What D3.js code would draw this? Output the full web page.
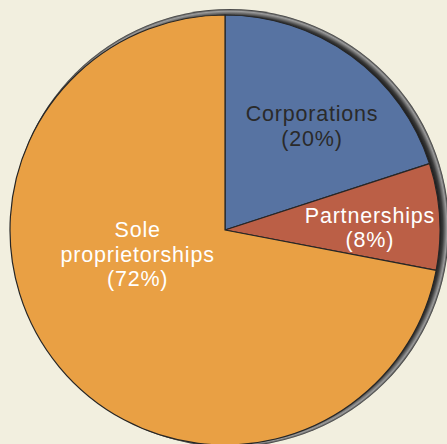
<!DOCTYPE html>
<html>
<head>
<meta charset="utf-8">
<script src="https://cdn.jsdelivr.net/npm/d3@7"></script>
<style>
  html, body { margin: 0; padding: 0; background: #f2efdf; }
  svg { display: block; }
</style>
</head>
<body>
<div id="pie-container"></div>
<script>
// chart data
const categories = ['Corporations', 'Partnerships', 'Sole proprietorships'];
const shares = [20, 8, 72];
const labelLines = [
  ['Corporations', '(20%)'],
  ['Partnerships', '(8%)'],
  ['Sole', 'proprietorships', '(72%)']
];

const width = 447;
const height = 444;
const cx = 225, cy = 230;
const radius = 215;

const colors = ['#5773a2', '#bb5f46', '#e9a044'];
const textColors = ['#2a2a2a', '#ffffff', '#ffffff'];
// label placement: [angle from top in degrees, distance from centre]
const labelPolar = [[42, 130], [92, 145], [250, 93]];

const data = categories.map((c, i) => ({ label: c, value: shares[i], lines: labelLines[i] }));

const svg = d3.select('#pie-container')
  .append('svg')
  .attr('width', width)
  .attr('height', height);

// rim shadow behind the pie
const rimX = cx + 5, rimY = cy - 2, rimR = radius + 4;
const defs = svg.append('defs');
const grad = defs.append('radialGradient')
  .attr('id', 'rim')
  .attr('gradientUnits', 'userSpaceOnUse')
  .attr('cx', rimX).attr('cy', rimY).attr('r', rimR);
grad.append('stop').attr('offset', 0.955).attr('stop-color', '#161616');
grad.append('stop').attr('offset', 0.972).attr('stop-color', '#3a3a3a');
grad.append('stop').attr('offset', 0.99).attr('stop-color', '#9c9c9c');
grad.append('stop').attr('offset', 1).attr('stop-color', '#333');

svg.append('circle')
  .attr('cx', rimX)
  .attr('cy', rimY)
  .attr('r', rimR)
  .attr('fill', 'url(#rim)');

const g = svg.append('g')
  .attr('transform', `translate(${cx}, ${cy})`);

const pieGenerator = d3.pie()
  .sort(null)
  .value(d => d.value);

const arcGenerator = d3.arc()
  .innerRadius(0)
  .outerRadius(radius);

const arcs = g.selectAll('g.slice')
  .data(pieGenerator(data))
  .enter()
  .append('g')
  .attr('class', 'slice');

arcs.append('path')
  .attr('d', arcGenerator)
  .style('fill', (_, i) => colors[i])
  .style('stroke', '#262626')
  .style('stroke-width', 1.2)
  .style('stroke-linejoin', 'round');

// labels
const lineHeight = 24.5;
arcs.each(function (d, i) {
  const [ang, r] = labelPolar[i];
  const a = ang * Math.PI / 180;
  const x = r * Math.sin(a);
  const y = -r * Math.cos(a);
  const lines = d.data.lines;
  const text = d3.select(this).append('text')
    .attr('text-anchor', 'middle')
    .style('font-family', '"Liberation Sans", Arial, sans-serif')
    .style('font-size', '21.5px')
    .style('letter-spacing', '0.8px')
    .style('fill', textColors[i]);
  lines.forEach((ln, k) => {
    text.append('tspan')
      .attr('x', x)
      .attr('y', y + (k - (lines.length - 1) / 2) * lineHeight)
      .text(ln);
  });
});
</script>
</body>
</html>
